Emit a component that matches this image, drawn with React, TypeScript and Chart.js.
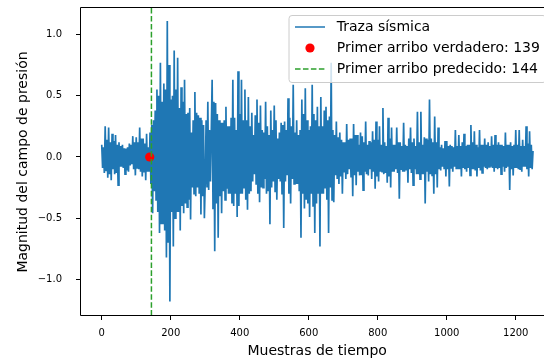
import React, { useEffect, useRef } from 'react';
import { Chart, registerables } from 'chart.js';

Chart.register(...registerables);

// ---- data ----
const SAMPLE_STEP = 2.5; // one value every 2.5 time samples
const TRACE: number[] = [
  0.10, -0.09, 0.08, -0.13, 0.25, -0.11, 0.14, -0.17, 0.24, -0.14, 0.12, -0.19, 0.19, -0.10, 0.13, -0.14, 0.18, -0.13, 0.10, -0.23,
  0.12, -0.08, 0.09, -0.08, 0.10, -0.09, 0.07, -0.14, 0.07, -0.11, 0.08, -0.12, 0.11, -0.07, 0.10, -0.06, 0.17, -0.10, 0.12, -0.15,
  0.16, -0.09, 0.12, -0.10, 0.24, -0.12, 0.15, -0.16, 0.15, -0.12, 0.11, -0.19, 0.19, -0.12, 0.08, -0.12, 0.20, -0.22, 0.26, -0.46,
  0.30, -0.28, 0.38, -0.35, 0.55, -0.45, 0.50, -0.62, 0.77, -0.55, 0.45, -0.55, 0.60, -0.60, 0.55, -0.82, 1.11, -0.70, 0.75, -1.18,
  0.47, -0.45, 0.50, -0.73, 0.87, -0.50, 0.55, -0.45, 0.81, -0.45, 0.40, -0.60, 0.57, -0.40, 0.45, -0.46, 0.63, -0.38, 0.35, -0.41,
  0.36, -0.35, 0.40, -0.51, 0.20, -0.25, 0.30, -0.30, 0.53, -0.32, 0.36, -0.25, 0.34, -0.30, 0.32, -0.47, 0.30, -0.32, 0.26, -0.50,
  -0.20, 0.30, -0.25, 0.45, -0.27, 0.22, -0.20, 0.20, 0.63, -0.42, 0.45, -0.77, 0.44, -0.38, 0.35, -0.66, 0.30, -0.32, 0.28, -0.46,
  0.28, -0.28, 0.30, -0.35, 0.41, -0.26, 0.25, -0.30, 0.25, -0.30, 0.32, -0.38, 0.63, -0.40, 0.32, -0.30, 0.22, -0.49, 0.70, -0.40,
  0.35, -0.30, 0.63, -0.30, 0.30, -0.25, 0.55, -0.35, 0.30, -0.43, 0.49, -0.30, 0.25, -0.28, 0.36, -0.20, 0.18, -0.14, 0.34, -0.22,
  0.47, -0.30, 0.28, -0.37, 0.42, -0.25, 0.22, -0.25, 0.20, -0.18, 0.45, -0.30, 0.25, -0.28, 0.18, -0.55, 0.38, -0.25, 0.22, -0.20,
  0.42, -0.28, 0.30, -0.35, 0.15, -0.18, 0.20, -0.20, 0.28, -0.30, 0.26, -0.58, 0.29, -0.20, 0.22, -0.15, 0.48, -0.30, 0.32, -0.38,
  0.25, -0.18, 0.59, -0.22, 0.20, -0.22, 0.30, -0.22, 0.18, -0.28, 0.22, -0.66, 0.47, -0.30, 0.35, -0.42, 0.56, -0.35, 0.30, -0.38,
  0.22, -0.49, 0.25, -0.30, 0.59, -0.40, 0.35, -0.62, 0.30, -0.38, 0.41, -0.30, 0.25, -0.73, 0.49, -0.30, 0.25, -0.30, 0.38, -0.25,
  0.41, -0.35, 0.30, -0.62, 0.33, -0.25, 0.77, -0.35, 0.22, -0.37, 0.18, -0.15, 0.29, -0.18, 0.16, -0.22, 0.20, -0.16, 0.14, -0.30,
  0.12, -0.12, 0.12, -0.18, 0.27, -0.14, 0.14, -0.10, 0.15, -0.16, 0.15, -0.32, 0.27, -0.15, 0.18, -0.23, 0.18, -0.12, 0.10, -0.15,
  0.20, -0.15, 0.17, -0.27, 0.12, -0.12, 0.29, -0.14, 0.10, -0.15, 0.13, -0.10, 0.12, -0.18, 0.21, -0.12, 0.14, -0.26, 0.29, -0.16,
  0.14, -0.20, 0.25, -0.12, 0.10, -0.12, 0.40, -0.14, 0.12, -0.13, 0.09, -0.21, 0.32, -0.16, 0.15, -0.25, 0.24, -0.12, 0.10, -0.12,
  0.10, -0.10, 0.24, -0.13, 0.12, -0.34, 0.12, -0.10, 0.09, -0.12, 0.28, -0.12, 0.10, -0.11, 0.09, -0.21, 0.15, -0.10, 0.24, -0.13,
  0.12, -0.23, 0.15, -0.10, 0.09, -0.14, 0.37, -0.14, 0.12, -0.18, 0.37, -0.14, 0.10, -0.14, 0.16, -0.38, 0.15, -0.12, 0.14, -0.20,
  0.47, -0.14, 0.15, -0.15, 0.12, -0.30, 0.33, -0.14, 0.12, -0.25, 0.24, -0.10, 0.08, -0.11, 0.10, -0.08, 0.07, -0.10, 0.13, -0.16,
  0.13, -0.10, 0.09, -0.24, 0.10, -0.09, 0.09, -0.12, 0.08, -0.08, 0.22, -0.10, 0.09, -0.10, 0.18, -0.10, 0.09, -0.16, 0.12, -0.09,
  0.19, -0.10, 0.09, -0.12, 0.10, -0.09, 0.10, -0.15, 0.26, -0.10, 0.12, -0.10, 0.21, -0.11, 0.10, -0.16, 0.08, -0.09, 0.22, -0.11,
  0.10, -0.13, 0.10, -0.08, 0.15, -0.09, 0.10, -0.10, 0.12, -0.08, 0.09, -0.08, 0.17, -0.09, 0.10, -0.12, 0.18, -0.09, 0.10, -0.10,
  0.12, -0.09, 0.10, -0.14, 0.10, -0.08, 0.09, -0.12, 0.20, -0.09, 0.10, -0.08, 0.10, -0.27, 0.12, -0.10, 0.09, -0.15, 0.10, -0.09,
  0.22, -0.09, 0.10, -0.10, 0.22, -0.10, 0.09, -0.12, 0.14, -0.08, 0.09, -0.08, 0.25, -0.10, 0.11, -0.16, 0.21, -0.09, 0.10, -0.10,
  0.05,
];
const TRUE_ARRIVAL = 139;
const TRUE_ARRIVAL_VALUE = 0;
const PREDICTED_ARRIVAL = 144;

const X_TICKS = [0, 200, 400, 600, 800, 1000, 1200];
const Y_TICKS = [-1.0, -0.5, 0.0, 0.5, 1.0];
const X_MIN = -63;
const X_MAX = 1312;
const Y_MIN = -1.298;
const Y_MAX = 1.216;

const X_TITLE = 'Muestras de tiempo';
const Y_TITLE = 'Magnitud del campo de presión';
const LEGEND_LABELS = [
  'Traza sísmica',
  `Primer arribo verdadero: ${TRUE_ARRIVAL}`,
  `Primer arribo predecido: ${PREDICTED_ARRIVAL}`,
];

const BLUE = '#1f77b4';
const RED = '#ff0000';
const GREEN = '#2ca02c';
const FONT = '"DejaVu Sans", sans-serif';

const overlay = {
  id: 'overlay',
  afterDatasetsDraw(chart: any) {
    const { ctx, chartArea: ca, scales } = chart;
    const x = scales.x.getPixelForValue(PREDICTED_ARRIVAL);
    ctx.save();
    ctx.beginPath();
    ctx.rect(ca.left, ca.top, ca.right - ca.left, ca.bottom - ca.top);
    ctx.clip();
    ctx.strokeStyle = GREEN;
    ctx.lineWidth = 1.5;
    ctx.setLineDash([5.55, 2.4]);
    ctx.beginPath();
    ctx.moveTo(x, ca.top);
    ctx.lineTo(x, ca.bottom);
    ctx.stroke();
    ctx.restore();

    // spines
    ctx.save();
    ctx.strokeStyle = '#000';
    ctx.lineWidth = 1;
    ctx.beginPath();
    ctx.moveTo(ca.left + 0.5, ca.bottom - 0.5);
    ctx.lineTo(ca.left + 0.5, ca.top - 0.5);
    ctx.lineTo(ca.right - 0.5, ca.top - 0.5);
    ctx.lineTo(ca.right - 0.5, ca.bottom - 0.5);
    ctx.lineTo(ca.left + 0.5, ca.bottom - 0.5);
    ctx.stroke();
    ctx.restore();
  },
  afterDraw(chart: any) {
    const { ctx, chartArea: ca } = chart;
    const left = 289;
    const top = ca.top + 7.5;
    const right = 546;
    const bottom = top + 67;
    const r = 3;
    ctx.save();
    ctx.beginPath();
    ctx.moveTo(left + r, top);
    ctx.lineTo(right - r, top);
    ctx.quadraticCurveTo(right, top, right, top + r);
    ctx.lineTo(right, bottom - r);
    ctx.quadraticCurveTo(right, bottom, right - r, bottom);
    ctx.lineTo(left + r, bottom);
    ctx.quadraticCurveTo(left, bottom, left, bottom - r);
    ctx.lineTo(left, top + r);
    ctx.quadraticCurveTo(left, top, left + r, top);
    ctx.closePath();
    ctx.fillStyle = 'rgba(255,255,255,0.8)';
    ctx.fill();
    ctx.strokeStyle = '#cccccc';
    ctx.lineWidth = 1;
    ctx.stroke();

    const rows = [top + 11.5, top + 32.5, top + 53.5];
    const hx0 = left + 6;
    const hx1 = left + 36;
    ctx.strokeStyle = BLUE;
    ctx.lineWidth = 1.5;
    ctx.beginPath();
    ctx.moveTo(hx0, rows[0]);
    ctx.lineTo(hx1, rows[0]);
    ctx.stroke();
    ctx.fillStyle = RED;
    ctx.beginPath();
    ctx.arc((hx0 + hx1) / 2, rows[1], 4.6, 0, Math.PI * 2);
    ctx.fill();
    ctx.strokeStyle = GREEN;
    ctx.setLineDash([5.55, 2.4]);
    ctx.beginPath();
    ctx.moveTo(hx0, rows[2]);
    ctx.lineTo(hx1, rows[2]);
    ctx.stroke();
    ctx.setLineDash([]);

    ctx.fillStyle = '#000';
    ctx.font = `14px ${FONT}`;
    ctx.textBaseline = 'middle';
    ctx.textAlign = 'left';
    LEGEND_LABELS.forEach((t, i) => ctx.fillText(t, left + 47.7, rows[i]));
    ctx.restore();
  },
};

export default function App() {
  const ref = useRef<HTMLCanvasElement>(null);
  useEffect(() => {
    const canvas = ref.current!;
    const chart = new Chart(canvas, {
      type: 'line',
      data: {
        datasets: [
          {
            label: LEGEND_LABELS[0],
            data: TRACE.map((v, i) => ({ x: i * SAMPLE_STEP, y: v })),
            borderColor: BLUE,
            backgroundColor: BLUE,
            borderWidth: 1.7,
            pointRadius: 0,
            tension: 0,
            fill: false,
            order: 2,
          } as any,
          {
            type: 'scatter',
            label: LEGEND_LABELS[1],
            data: [{ x: TRUE_ARRIVAL, y: TRUE_ARRIVAL_VALUE }],
            backgroundColor: RED,
            borderColor: RED,
            borderWidth: 0,
            pointRadius: 4.6,
            order: 1,
          } as any,
        ],
      },
      options: {
        responsive: false,
        animation: false,
        devicePixelRatio: 1,
        events: [],
        layout: { padding: { top: 8, left: 0, right: 0, bottom: 0 } },
        plugins: { legend: { display: false }, tooltip: { enabled: false } },
        scales: {
          x: {
            type: 'linear',
            min: X_MIN,
            max: X_MAX,
            afterBuildTicks: (s: any) => {
              s.ticks = X_TICKS.map((v) => ({ value: v }));
            },
            afterFit: (s: any) => {
              s.height = 44;
              s.paddingLeft = 0;
              s.paddingRight = 0;
              s.paddingTop = 0;
              s.paddingBottom = 0;
            },
            ticks: {
              autoSkip: false,
              maxRotation: 0,
              padding: 7,
              color: '#000',
              font: { family: FONT, size: 10 },
              callback: (v: any) => String(v),
            },
            grid: { drawOnChartArea: false, drawTicks: true, tickLength: 4, color: '#000', lineWidth: 1 },
            border: { display: false },
            title: {
              display: true,
              text: X_TITLE,
              color: '#000',
              font: { family: FONT, size: 14 },
              padding: { top: 0, bottom: 0 },
            },
          },
          y: {
            type: 'linear',
            min: Y_MIN,
            max: Y_MAX,
            afterBuildTicks: (s: any) => {
              s.ticks = Y_TICKS.map((v) => ({ value: v }));
            },
            afterFit: (s: any) => {
              s.width = 80;
              s.paddingLeft = 0;
              s.paddingRight = 0;
              s.paddingTop = 0;
              s.paddingBottom = 0;
            },
            ticks: {
              autoSkip: false,
              padding: 14,
              color: '#000',
              font: { family: FONT, size: 10 },
              callback: (v: any) => (v < 0 ? '\u2212' : '') + Math.abs(v).toFixed(1),
            },
            grid: { drawOnChartArea: false, drawTicks: true, tickLength: 4, color: '#000', lineWidth: 1 },
            border: { display: false },
            title: {
              display: true,
              text: Y_TITLE,
              color: '#000',
              font: { family: FONT, size: 14 },
              padding: { top: 15, bottom: 0 },
            },
          },
        },
      } as any,
      plugins: [overlay],
    });
    return () => chart.destroy();
  }, []);
  return (
    <div
      style={{
        position: 'absolute',
        left: 0,
        top: 0,
        width: 544,
        height: 360,
        overflow: 'hidden',
        background: '#fff',
      }}
    >
      <canvas ref={ref} width={559} height={360} style={{ display: 'block', width: 559, height: 360 }} />
    </div>
  );
}
